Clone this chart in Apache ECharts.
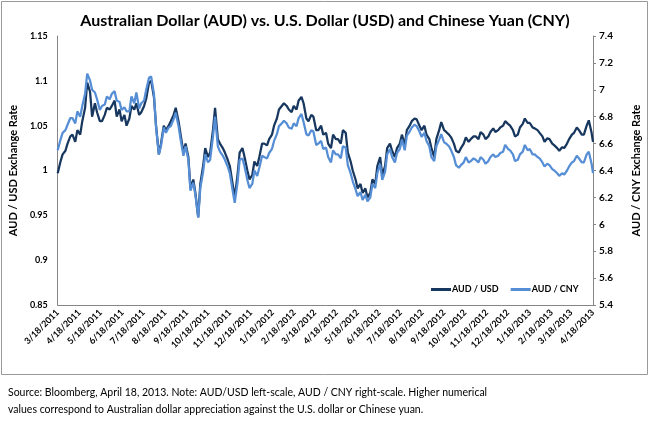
<!DOCTYPE html>
<html>
<head>
<meta charset="utf-8">
<script src="https://cdn.jsdelivr.net/npm/echarts@6/dist/echarts.min.js"></script>
<style>
  html, body { margin: 0; padding: 0; background: #fff; }
  #chart { width: 650px; height: 437px; }
</style>
</head>
<body>
<div id="chart"></div>
<script>
// readings taken every Tuesday and Friday, 3/18/2011 .. 4/16/2013, plus 4/18/2013
const audUsd = [
  // 2011
  0.997, 1.010, 1.018, 1.022, 1.030, 1.038, 1.040, 1.032,
  1.045, 1.040, 1.055, 1.070, 1.098, 1.088, 1.060, 1.075,
  1.065, 1.055, 1.055, 1.062, 1.070, 1.068, 1.072, 1.078,
  1.060, 1.068, 1.055, 1.062, 1.050, 1.058, 1.072, 1.068,
  1.075, 1.062, 1.065, 1.072, 1.080, 1.098, 1.100, 1.082,
  1.050, 1.018, 1.030, 1.050, 1.045, 1.050, 1.055, 1.062,
  1.070, 1.055, 1.040, 1.020, 1.030, 1.015, 0.980, 0.990,
  0.975, 0.948, 0.985, 1.005, 1.025, 1.015, 1.020, 1.045,
  1.070, 1.035, 1.030, 1.025, 1.020, 1.012, 1.005, 0.985,
  0.970, 0.995, 1.020, 1.025, 1.015, 1.000, 0.990, 0.995,
  1.010, 1.005, 1.015, 1.030,
  // 2012
  1.030, 1.028, 1.035, 1.040, 1.050, 1.058, 1.068, 1.072,
  1.075, 1.072, 1.068, 1.065, 1.072, 1.068, 1.078, 1.082,
  1.075, 1.058, 1.055, 1.062, 1.060, 1.045, 1.045, 1.050,
  1.040, 1.042, 1.030, 1.025, 1.040, 1.035, 1.035, 1.030,
  1.045, 1.042, 1.020, 1.010, 1.000, 0.990, 0.980, 0.985,
  0.975, 0.980, 0.970, 0.975, 0.990, 0.985, 1.005, 1.015,
  0.995, 1.005, 1.025, 1.030, 1.022, 1.015, 1.025, 1.030,
  1.040, 1.028, 1.045, 1.050, 1.055, 1.058, 1.057, 1.050,
  1.045, 1.050, 1.040, 1.035, 1.025, 1.015, 1.035, 1.045,
  1.054, 1.045, 1.043, 1.040, 1.037, 1.030, 1.022, 1.020,
  1.025, 1.030, 1.037, 1.032, 1.035, 1.038, 1.038, 1.035,
  1.043, 1.040, 1.035, 1.038, 1.043, 1.047, 1.043, 1.045,
  1.048, 1.050, 1.055, 1.052, 1.050, 1.045, 1.038, 1.040,
  // 2013
  1.048, 1.052, 1.058, 1.053, 1.053, 1.048, 1.047, 1.045,
  1.042, 1.038, 1.032, 1.036, 1.035, 1.030, 1.028, 1.025,
  1.022, 1.026, 1.025, 1.030, 1.035, 1.040, 1.042, 1.048,
  1.045, 1.040, 1.040, 1.050, 1.056, 1.042, 1.032
]

const audCny = [
  // 2011
  6.55, 6.63, 6.68, 6.70, 6.74, 6.79, 6.79, 6.75,
  6.84, 6.80, 6.88, 6.97, 7.12, 7.07, 7.00, 6.98,
  6.93, 6.85, 6.88, 6.89, 6.95, 6.93, 6.97, 6.99,
  6.92, 6.91, 6.85, 6.87, 6.84, 6.84, 6.95, 6.90,
  6.98, 6.86, 6.90, 6.92, 7.00, 7.09, 7.10, 6.97,
  6.72, 6.52, 6.58, 6.72, 6.68, 6.72, 6.73, 6.78,
  6.83, 6.73, 6.63, 6.51, 6.58, 6.48, 6.25, 6.31,
  6.22, 6.05, 6.27, 6.39, 6.52, 6.46, 6.48, 6.65,
  6.80, 6.58, 6.54, 6.51, 6.48, 6.43, 6.38, 6.25,
  6.16, 6.31, 6.48, 6.49, 6.43, 6.33, 6.27, 6.30,
  6.40, 6.36, 6.42, 6.51,
  // 2012
  6.50, 6.49, 6.53, 6.56, 6.62, 6.67, 6.73, 6.75,
  6.77, 6.75, 6.72, 6.71, 6.75, 6.73, 6.79, 6.82,
  6.76, 6.67, 6.66, 6.70, 6.69, 6.59, 6.60, 6.62,
  6.56, 6.57, 6.50, 6.46, 6.55, 6.52, 6.52, 6.49,
  6.58, 6.57, 6.44, 6.38, 6.32, 6.26, 6.21, 6.24,
  6.18, 6.22, 6.17, 6.20, 6.30, 6.27, 6.38, 6.45,
  6.33, 6.39, 6.52, 6.56, 6.50, 6.46, 6.53, 6.56,
  6.63, 6.55, 6.66, 6.69, 6.72, 6.74, 6.73, 6.69,
  6.65, 6.68, 6.62, 6.58, 6.50, 6.47, 6.58, 6.63,
  6.67, 6.61, 6.60, 6.58, 6.55, 6.50, 6.44, 6.42,
  6.44, 6.46, 6.50, 6.46, 6.47, 6.49, 6.48, 6.46,
  6.50, 6.48, 6.45, 6.47, 6.50, 6.52, 6.50, 6.51,
  6.53, 6.54, 6.59, 6.56, 6.55, 6.52, 6.47, 6.48,
  // 2013
  6.52, 6.54, 6.59, 6.55, 6.56, 6.52, 6.52, 6.50,
  6.49, 6.46, 6.43, 6.45, 6.44, 6.41, 6.40, 6.38,
  6.36, 6.38, 6.37, 6.40, 6.43, 6.46, 6.47, 6.51,
  6.49, 6.46, 6.46, 6.52, 6.54, 6.45, 6.38
]

const seriesNames = ['AUD / USD', 'AUD / CNY']
const footnote = [
  'Source: Bloomberg, April 18, 2013. Note: AUD/USD left-scale, AUD / CNY right-scale. Higher numerical',
  'values correspond to Australian dollar appreciation against the U.S. dollar or Chinese yuan.'
]

function fmt(dt) {
  return (dt.getMonth() + 1) + '/' + dt.getDate() + '/' + dt.getFullYear()
}

// the date axis runs over every calendar day, like the spreadsheet's date axis
const days = []
const readingDays = []
const d = new Date(2011, 2, 18)
const end = new Date(2013, 3, 18)
while (d <= end) {
  days.push(fmt(d))
  const wd = d.getDay()
  if (wd === 2 || wd === 5 || d.getTime() === end.getTime()) readingDays.push(days.length - 1)
  d.setDate(d.getDate() + 1)
}

function spread(values) {
  const out = new Array(days.length).fill(null)
  readingDays.forEach((dayIdx, i) => { out[dayIdx] = values[i] })
  return out
}

const font = 'Lato, "Open Sans", sans-serif'
const chart = echarts.init(document.getElementById('chart'))

const option = {
  animation: false,
  title: {
    text: 'Australian Dollar (AUD) vs. U.S. Dollar (USD) and Chinese Yuan (CNY)',
    left: 'center',
    top: 8,
    textStyle: { fontFamily: font, fontSize: 16, fontWeight: 'bold', color: '#000' }
  },
  grid: { left: 46, right: 51, top: 36, bottom: 132 },
  legend: {
    data: seriesNames,
    left: 426,
    top: 280,
    icon: 'rect',
    itemWidth: 20,
    itemHeight: 3,
    itemGap: 12,
    textStyle: { fontFamily: font, fontSize: 9, fontWeight: 'bold', color: '#000', padding: [0, 0, 0, -4] }
  },
  xAxis: {
    type: 'category',
    data: days,
    boundaryGap: false,
    axisLine: { lineStyle: { color: '#868686' } },
    axisTick: { show: false },
    axisLabel: {
      interval: (i, v) => v.split('/')[1] === '18',
      rotate: 45,
      margin: 6,
      fontFamily: font,
      fontSize: 9,
      fontWeight: 'bold',
      color: '#000'
    },
    splitLine: { show: false }
  },
  yAxis: [
    {
      type: 'value',
      min: 0.85,
      max: 1.15,
      interval: 0.05,
      name: 'AUD / USD Exchange Rate',
      nameLocation: 'middle',
      nameRotate: 90,
      nameGap: 33,
      nameTextStyle: { fontFamily: font, fontSize: 11, fontWeight: 'bold', color: '#000' },
      axisLine: { show: true, lineStyle: { color: '#868686' } },
      axisTick: { show: false },
      axisLabel: {
        formatter: v => String(+v.toFixed(2)),
        margin: 10,
        fontFamily: font,
        fontSize: 9,
        fontWeight: 'bold',
        color: '#000'
      },
      splitLine: { show: false }
    },
    {
      type: 'value',
      position: 'right',
      min: 5.4,
      max: 7.4,
      interval: 0.2,
      name: 'AUD / CNY Exchange Rate',
      nameLocation: 'middle',
      nameRotate: 90,
      nameGap: 38,
      nameTextStyle: { fontFamily: font, fontSize: 11, fontWeight: 'bold', color: '#000' },
      axisLine: { show: true, lineStyle: { color: '#868686' } },
      axisTick: { show: true, length: 3, lineStyle: { color: '#868686' } },
      axisLabel: {
        formatter: v => String(+v.toFixed(1)),
        margin: 6,
        fontFamily: font,
        fontSize: 10,
        fontWeight: 'bold',
        color: '#000'
      },
      splitLine: { show: false }
    }
  ],
  series: [
    {
      name: seriesNames[0],
      type: 'line',
      yAxisIndex: 0,
      symbol: 'none',
      connectNulls: true,
      lineStyle: { width: 2.25, color: '#17375E' },
      itemStyle: { color: '#17375E' },
      data: spread(audUsd)
    },
    {
      name: seriesNames[1],
      type: 'line',
      yAxisIndex: 1,
      symbol: 'none',
      connectNulls: true,
      lineStyle: { width: 2.25, color: '#558ED5' },
      itemStyle: { color: '#558ED5' },
      data: spread(audCny)
    }
  ],
  graphic: [
    {
      type: 'rect',
      shape: { x: 1.5, y: 1.5, width: 646, height: 373 },
      style: { fill: 'none', stroke: '#999', lineWidth: 1 },
      silent: true
    },
    {
      type: 'text',
      left: 8,
      top: 384,
      style: {
        text: footnote.join('\n'),
        font: '10.5px ' + font,
        lineHeight: 17,
        fill: '#000'
      }
    }
  ]
}

chart.setOption(option)
</script>
</body>
</html>
